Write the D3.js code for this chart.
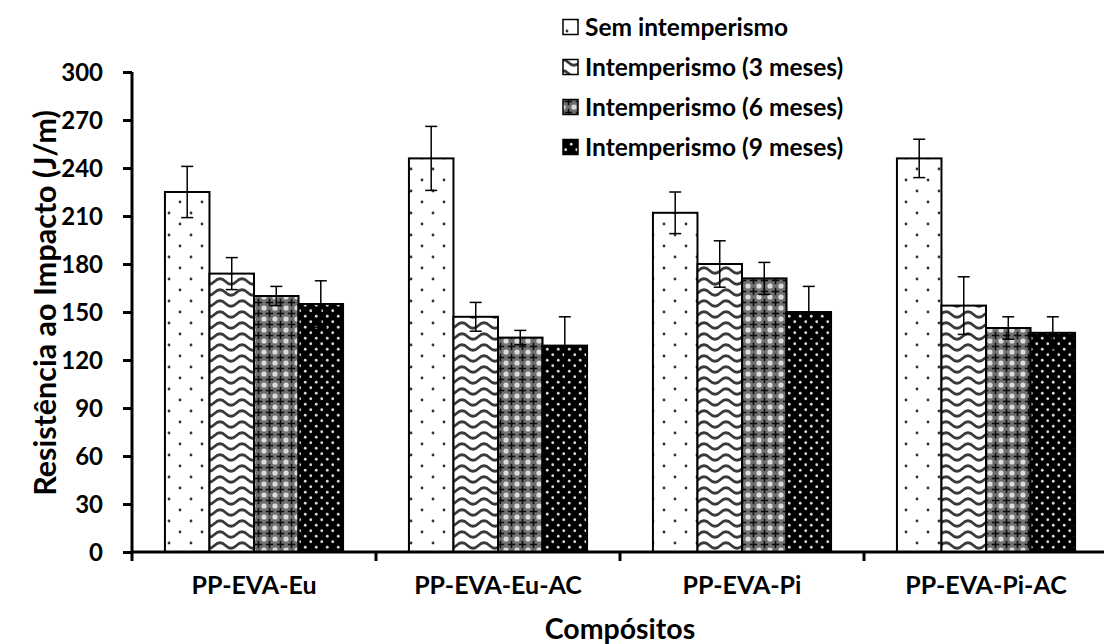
<!DOCTYPE html>
<html>
<head>
<meta charset="utf-8">
<script src="https://cdn.jsdelivr.net/npm/d3@7"></script>
<style>
  html, body { margin: 0; padding: 0; background: #fff; }
  svg { display: block; }
  text { font-family: Lato, "Open Sans", sans-serif; font-weight: 700; fill: #000; }
</style>
</head>
<body>
<svg id="chart" width="1104" height="644"></svg>
<script>
// Impact resistance of the composites, before and after weathering
const categories = ["PP-EVA-Eu", "PP-EVA-Eu-AC", "PP-EVA-Pi", "PP-EVA-Pi-AC"];
const seriesNames = ["Sem intemperismo", "Intemperismo (3 meses)", "Intemperismo (6 meses)", "Intemperismo (9 meses)"];

const semIntemperismo = [225, 246, 212, 246];
const intemp3 = [174, 147, 180, 154];
const intemp6 = [160, 134, 171, 140];
const intemp9 = [155, 129, 150, 137];

const errSem = [16, 20, 13, 12];
const err3 = [10, 9, 14.5, 18];
const err6 = [6, 4.5, 10, 7];
const err9 = [14.5, 18, 16, 10];

const yTicks = [0, 30, 60, 90, 120, 150, 180, 210, 240, 270, 300];
const yTitle = "Resistência ao Impacto (J/m)";
const xTitle = "Compósitos";

const seriesValues = [semIntemperismo, intemp3, intemp6, intemp9];
const seriesErrors = [errSem, err3, err6, err9];

const svg = d3.select("#chart");
const plot = { left: 132, right: 1108, top: 72, bottom: 552 };

// ---- fill patterns -------------------------------------------------------
const defs = svg.append("defs");

// sparse dots on white
const pDots = defs.append("pattern").attr("id", "pat0")
  .attr("patternUnits", "userSpaceOnUse").attr("width", 22).attr("height", 22);
pDots.append("rect").attr("width", 22).attr("height", 22).attr("fill", "#fff");
pDots.append("circle").attr("cx", 4).attr("cy", 4).attr("r", 1.4).attr("fill", "#333");
pDots.append("circle").attr("cx", 15).attr("cy", 15).attr("r", 1.4).attr("fill", "#333");

// waves
const pWave = defs.append("pattern").attr("id", "pat1")
  .attr("patternUnits", "userSpaceOnUse").attr("width", 22).attr("height", 11);
pWave.append("rect").attr("width", 22).attr("height", 11).attr("fill", "#fff");
pWave.append("path")
  .attr("d", "M-5.5,6.5 Q0,1 5.5,6.5 T16.5,6.5 T27.5,6.5")
  .attr("fill", "none").attr("stroke", "#3a3a3a").attr("stroke-width", 2.6);

// grey lattice with dark crosses
const pLat = defs.append("pattern").attr("id", "pat2")
  .attr("patternUnits", "userSpaceOnUse").attr("width", 11).attr("height", 11);
pLat.append("rect").attr("width", 11).attr("height", 11).attr("fill", "#707070");
[[0, 0], [11, 0], [0, 11], [11, 11]].forEach(([cx, cy]) => {
  pLat.append("circle").attr("cx", cx).attr("cy", cy).attr("r", 2.6).attr("fill", "#dcdcdc");
});
pLat.append("rect").attr("x", 1.8).attr("y", 4.7).attr("width", 7.4).attr("height", 1.6).attr("fill", "#0a0a0a");
pLat.append("rect").attr("x", 4.7).attr("y", 1.8).attr("width", 1.6).attr("height", 7.4).attr("fill", "#0a0a0a");

// light dots on black
const pDark = defs.append("pattern").attr("id", "pat3")
  .attr("patternUnits", "userSpaceOnUse").attr("width", 11).attr("height", 11);
pDark.append("rect").attr("width", 11).attr("height", 11).attr("fill", "#000");
pDark.append("circle").attr("cx", 2.75).attr("cy", 2.75).attr("r", 1.4).attr("fill", "#d8d8d8");
pDark.append("circle").attr("cx", 8.25).attr("cy", 8.25).attr("r", 1.4).attr("fill", "#d8d8d8");

const fills = ["url(#pat0)", "url(#pat1)", "url(#pat2)", "url(#pat3)"];

// ---- scales --------------------------------------------------------------
const x0 = d3.scaleBand().domain(categories)
  .range([plot.left, plot.right]).paddingInner(0.27).paddingOuter(0.135);
const x1 = d3.scaleBand().domain(d3.range(seriesNames.length))
  .range([0, x0.bandwidth()]);
const y = d3.scaleLinear().domain([0, 300]).range([plot.bottom, plot.top]);

// ---- bars ----------------------------------------------------------------
const rows = [];
categories.forEach((c, ci) => {
  seriesValues.forEach((vals, si) => {
    rows.push({ cat: c, s: si, v: vals[ci], e: seriesErrors[si][ci] });
  });
});

svg.append("g").selectAll("rect").data(rows).join("rect")
  .attr("x", d => x0(d.cat) + x1(d.s))
  .attr("y", d => y(d.v))
  .attr("width", x1.bandwidth())
  .attr("height", d => y(0) - y(d.v))
  .attr("fill", d => fills[d.s])
  .attr("stroke", "#000").attr("stroke-width", 2);

// ---- error bars ----------------------------------------------------------
const cap = 6;
const gErr = svg.append("g").attr("stroke", "#000").attr("stroke-width", 1.5);
rows.forEach(d => {
  const cx = x0(d.cat) + x1(d.s) + x1.bandwidth() / 2;
  const yt = y(d.v + d.e), yb = y(d.v - d.e);
  gErr.append("line").attr("x1", cx).attr("x2", cx).attr("y1", yt).attr("y2", yb);
  gErr.append("line").attr("x1", cx - cap).attr("x2", cx + cap).attr("y1", yt).attr("y2", yt);
  gErr.append("line").attr("x1", cx - cap).attr("x2", cx + cap).attr("y1", yb).attr("y2", yb);
});

// ---- axes ----------------------------------------------------------------
const yAxis = svg.append("g").attr("transform", `translate(${plot.left},0)`)
  .call(d3.axisLeft(y).tickValues(yTicks).tickSize(9).tickPadding(20));
yAxis.select(".domain").attr("stroke-width", 3).attr("d", `M0,${plot.top}V${plot.bottom}`);
yAxis.selectAll(".tick line").attr("stroke-width", 3);
yAxis.selectAll(".tick text").style("font-size", "24px").attr("dy", "0.36em");

const xAxisG = svg.append("g").attr("transform", `translate(0,${plot.bottom})`);
xAxisG.append("line").attr("x1", plot.left).attr("x2", plot.right)
  .attr("stroke", "#000").attr("stroke-width", 3);
const boundaries = categories.map(c => x0(c) - x0.step() * x0.paddingInner() / 2)
  .concat([plot.right]);
boundaries[0] = plot.left;
xAxisG.selectAll("line.tk").data(boundaries).join("line").attr("class", "tk")
  .attr("x1", d => d).attr("x2", d => d).attr("y1", 0).attr("y2", 9)
  .attr("stroke", "#000").attr("stroke-width", 3);
xAxisG.selectAll("text").data(categories).join("text")
  .attr("x", d => x0(d) + x0.bandwidth() / 2).attr("y", 42)
  .attr("text-anchor", "middle").style("font-size", "25px").text(d => d);

// ---- titles --------------------------------------------------------------
svg.append("text").attr("x", (plot.left + plot.right) / 2).attr("y", 639)
  .attr("text-anchor", "middle").style("font-size", "28.5px").text(xTitle);
svg.append("text")
  .attr("transform", `translate(56,${(plot.top + plot.bottom) / 2 - 9}) rotate(-90)`)
  .attr("text-anchor", "middle").style("font-size", "30.5px").text(yTitle);

// ---- legend --------------------------------------------------------------
const legend = svg.append("g").attr("transform", "translate(563,0)");
const legY = [27, 67, 107, 147];
seriesNames.forEach((name, i) => {
  const g = legend.append("g").attr("transform", `translate(0,${legY[i]})`);
  g.append("rect").attr("x", 0).attr("y", -7.5).attr("width", 15).attr("height", 15)
    .attr("fill", fills[i]).attr("stroke", "#000").attr("stroke-width", 1.5);
  g.append("text").attr("x", 22).attr("y", 0).attr("dy", "0.36em")
    .style("font-size", "24.5px").text(name);
});
</script>
</body>
</html>
